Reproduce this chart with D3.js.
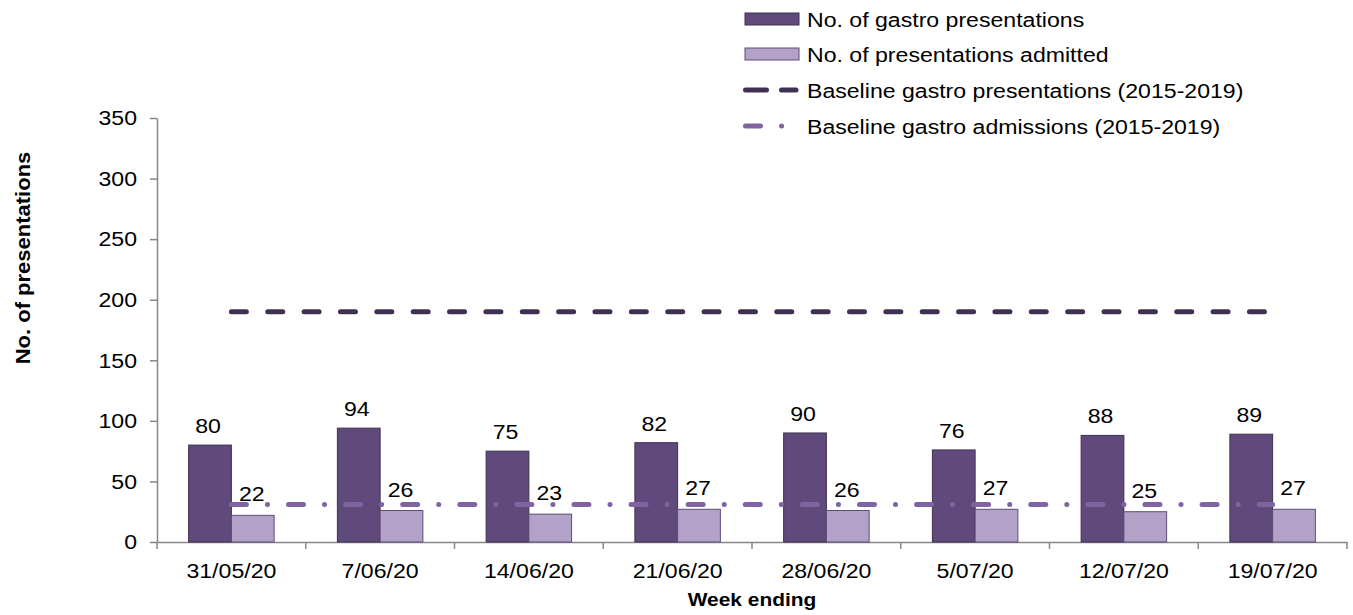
<!DOCTYPE html>
<html><head><meta charset="utf-8">
<script src="https://cdn.jsdelivr.net/npm/d3@7"></script>
<style>
body{margin:0;background:#fff}
svg{display:block}
text{font-family:"Liberation Sans",Arial,Helvetica,sans-serif;fill:#000}
</style>
</head><body>
<svg id="c" width="1353" height="615"></svg>
<script>
// ---- data ----
const weeks = ["31/05/20","7/06/20","14/06/20","21/06/20","28/06/20","5/07/20","12/07/20","19/07/20"];
const presentations = [80,94,75,82,90,76,88,89];
const admitted = [22,26,23,27,26,27,25,27];
const baselinePresentations = [190,190,190,190,190,190,190,190];
const baselineAdmissions = [31,31,31,31,31,31,31,31];
const yTicks = [0,50,100,150,200,250,300,350];
const seriesNames = ["No. of gastro presentations","No. of presentations admitted","Baseline gastro presentations (2015-2019)","Baseline gastro admissions (2015-2019)"];
const xTitle = "Week ending";
const yTitle = "No. of presentations";

// ---- styles ----
const C_DARK = "#5f4a7b", C_LIGHT = "#b3a2c7", C_BASEP = "#403152", C_BASEA = "#8064a2", C_AXIS = "#868686";
const SX = 1.1, FS = 21;

const svg = d3.select("#c");
const x = d3.scaleBand().domain(weeks).range([157,1347]).padding(0);
const x1 = d3.scaleBand().domain(["p","a"]).range([0,x.bandwidth()]).paddingInner(0).paddingOuter(0.74);
const y = d3.scaleLinear().domain([0,350]).range([542,118]);

function stext(g, tx, ty, str, opts={}) {
  return g.append("text")
    .attr("transform", `translate(${tx},${ty}) scale(${SX},1)`)
    .attr("text-anchor", opts.anchor || "start")
    .attr("dy", opts.dy || "0")
    .style("font-size", (opts.size||FS)+"px")
    .style("font-weight", opts.bold ? "bold" : "normal")
    .text(str);
}

// y axis
const gy = svg.append("g").attr("transform","translate(157,0)")
  .call(d3.axisLeft(y).tickValues(yTicks).tickSize(7).tickPadding(13).tickSizeOuter(0));
gy.select(".domain").attr("stroke",C_AXIS).attr("stroke-width",1.5);
gy.selectAll(".tick line").attr("stroke",C_AXIS).attr("stroke-width",1.5);
gy.selectAll(".tick text").attr("x",-20/SX).attr("transform",`scale(${SX},1)`)
  .style("font-size",FS+"px").attr("fill","#000").attr("font-family",null);

// x axis
const gx = svg.append("g").attr("transform","translate(0,542)")
  .call(d3.axisBottom(x).tickSize(0).tickPadding(21).tickSizeOuter(0));
gx.select(".domain").attr("stroke",C_AXIS).attr("stroke-width",1.5);
gx.selectAll(".tick text").attr("transform",`scale(${SX},1)`)
  .style("font-size",FS+"px").attr("fill","#000").attr("font-family",null);
const bounds = weeks.map(w => x(w)).concat([x(weeks[weeks.length-1]) + x.bandwidth()]);
gx.selectAll("line.bt").data(bounds).enter().append("line").attr("class","bt")
  .attr("x1",d=>d).attr("x2",d=>d).attr("y1",0).attr("y2",7)
  .attr("stroke",C_AXIS).attr("stroke-width",1.5);

// bars
const bars = svg.append("g");
bars.selectAll("rect.p").data(presentations).enter().append("rect").attr("class","p")
  .attr("x",(d,i)=>x(weeks[i])+x1("p")).attr("width",x1.bandwidth())
  .attr("y",d=>y(d)).attr("height",d=>y(0)-y(d))
  .attr("fill",C_DARK).attr("stroke","#3f3151").attr("stroke-width",1);
bars.selectAll("rect.a").data(admitted).enter().append("rect").attr("class","a")
  .attr("x",(d,i)=>x(weeks[i])+x1("a")).attr("width",x1.bandwidth())
  .attr("y",d=>y(d)).attr("height",d=>y(0)-y(d))
  .attr("fill",C_LIGHT).attr("stroke","#5f4a7b").attr("stroke-width",1);

// baseline lines
const cx = i => x(weeks[i]) + x.bandwidth()/2;
const line = d3.line().x((d,i)=>cx(i)).y(d=>y(d));
svg.append("path").datum(baselinePresentations).attr("d",line)
  .attr("fill","none").attr("stroke",C_BASEP).attr("stroke-width",5)
  .attr("stroke-linecap","round").attr("stroke-dasharray","15,21.36");
svg.append("path").datum(baselineAdmissions).attr("d",line)
  .attr("fill","none").attr("stroke",C_BASEA).attr("stroke-width",5)
  .attr("stroke-linecap","round").attr("stroke-dasharray","15,21,0.1,21");

// data labels
const lab = svg.append("g");
presentations.forEach((v,i)=>{
  stext(lab, x(weeks[i])+x1("p")+x1.bandwidth()/2 - 2, y(v)-12, String(v), {anchor:"middle"});
});
admitted.forEach((v,i)=>{
  stext(lab, x(weeks[i])+x1("a")+x1.bandwidth()/2 - 1, y(v)-14, String(v), {anchor:"middle"});
});

// axis titles
stext(svg, 752, 606, xTitle, {anchor:"middle", bold:true, size:19});
svg.append("text")
  .attr("transform",`translate(30,258) rotate(-90) scale(${SX},1)`)
  .attr("text-anchor","middle")
  .style("font-size","20px").style("font-weight","bold")
  .text(yTitle);

// legend
const lg = svg.append("g");
const rowY = [19,54,90,126];
lg.append("rect").attr("x",745).attr("y",rowY[0]-6).attr("width",54).attr("height",12)
  .attr("fill",C_DARK).attr("stroke","#3f3151").attr("stroke-width",1);
lg.append("rect").attr("x",745).attr("y",rowY[1]-6).attr("width",54).attr("height",12)
  .attr("fill",C_LIGHT).attr("stroke","#5f4a7b").attr("stroke-width",1);
lg.append("line").attr("x1",745.5).attr("x2",796).attr("y1",rowY[2]).attr("y2",rowY[2])
  .attr("stroke",C_BASEP).attr("stroke-width",5).attr("stroke-linecap","round").attr("stroke-dasharray","21,15");
lg.append("line").attr("x1",745.5).attr("x2",796).attr("y1",rowY[3]).attr("y2",rowY[3])
  .attr("stroke",C_BASEA).attr("stroke-width",5).attr("stroke-linecap","round").attr("stroke-dasharray","15,21,0.1,40");
seriesNames.forEach((s,i)=>{
  stext(lg, 807, rowY[i], s, {dy:"0.36em"});
});
</script>
</body></html>
